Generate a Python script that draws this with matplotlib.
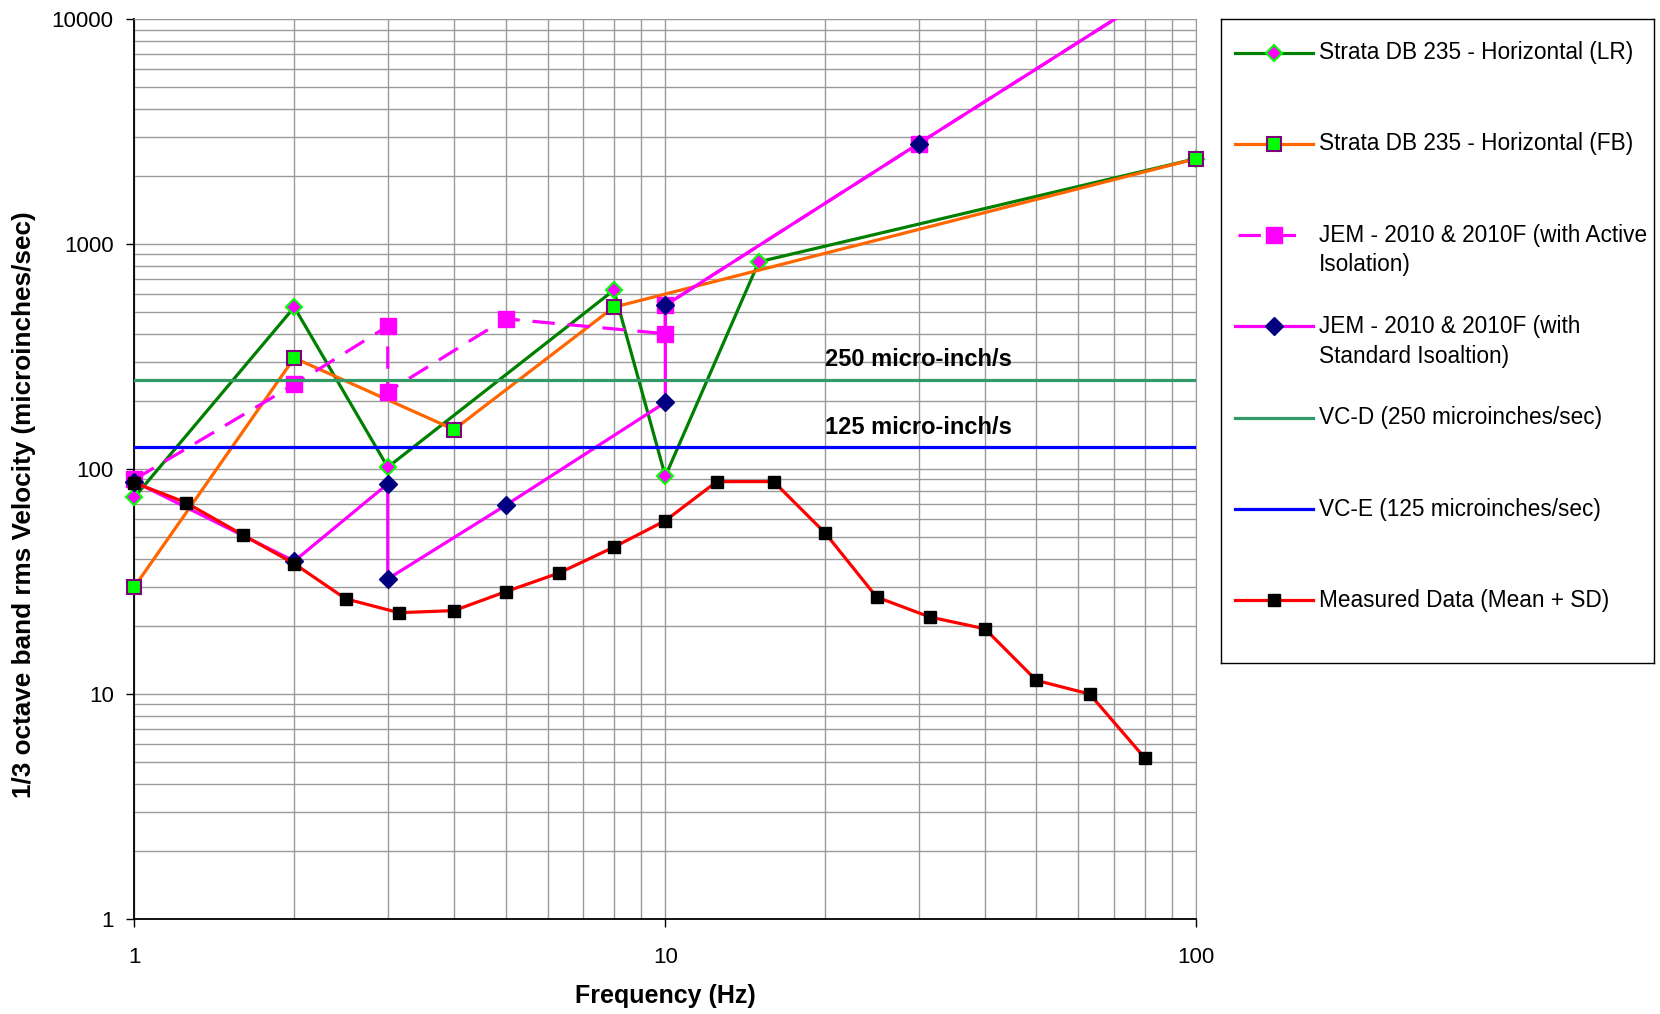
import matplotlib
matplotlib.use("Agg")
import matplotlib.pyplot as plt
from matplotlib.ticker import LogLocator, NullFormatter, FixedLocator

# --- Data ---
lr_freq = [1, 2, 3, 8, 10, 15, 100]
lr_vel = [75, 525, 102, 625, 93, 835, 2400]

fb_freq = [1, 2, 4, 8, 100]
fb_vel = [30, 312, 150, 525, 2400]

act_freq = [1, 2, 3, 3, 5, 10, 10, 30, 100]
act_vel = [90, 238, 432, 221, 466, 400, 535, 2800, 17000]

std_freq = [1, 2, 3, 3, 5, 10, 10, 30, 100]
std_vel = [88, 39, 86, 32.5, 69, 198, 535, 2800, 17000]

meas_freq = [1, 1.25, 1.6, 2, 2.5, 3.15, 4, 5, 6.3, 8, 10, 12.5, 16,
             20, 25, 31.5, 40, 50, 63, 80]
meas_vel = [87, 71, 51, 38, 26.5, 23, 23.5, 28.5, 34.5, 45, 59, 88, 88,
            52, 27, 22, 19.5, 11.5, 10, 5.2]

vc_d = 250
vc_e = 125

labels = ["Strata DB 235 - Horizontal (LR)",
          "Strata DB 235 - Horizontal (FB)",
          "JEM - 2010 & 2010F (with Active\nIsolation)",
          "JEM - 2010 & 2010F (with\nStandard Isoaltion)",
          "VC-D (250 microinches/sec)",
          "VC-E (125 microinches/sec)",
          "Measured Data (Mean + SD)"]

plt.rcParams['font.family'] = ['Liberation Sans', 'DejaVu Sans']

fig = plt.figure(figsize=(16.6, 10.14), dpi=100)
ax = fig.add_axes([0.081, 0.0937, 0.6396, 0.8873])

lw = 2.3
marker_keys = ('marker', 'ms', 'mfc', 'mec', 'mew')
styles = [
    dict(color='#008000', marker='D', ms=8.5, mfc='#FF00FF', mec='#00FF00', mew=1.5, ls='-'),
    dict(color='#FF6600', marker='s', ms=9.5, mfc='#00FF00', mec='#800080', mew=1.5, ls='-'),
    dict(color='#FF00FF', marker='s', ms=11, mfc='#FF00FF', mec='#FF00FF', mew=1, ls=(0, (7, 4))),
    dict(color='#FF00FF', marker='D', ms=9, mfc='#000080', mec='#000080', mew=1, ls='-'),
    dict(color='#339966', ls='-'),
    dict(color='#0000FF', ls='-'),
    dict(color='#FF0000', marker='s', ms=8.5, mfc='black', mec='black', mew=1, ls='-'),
]


def line_only(st):
    return {k: v for k, v in st.items() if k not in marker_keys}


def marks_only(st):
    return {k: v for k, v in st.items() if k in marker_keys}


ax.plot(lr_freq, lr_vel, lw=lw, **styles[0], zorder=3, clip_on=False)
ax.plot(fb_freq, fb_vel, lw=lw, **styles[1], zorder=4, clip_on=False)
# JEM lines run off the top of the chart: clip the line, not the visible markers
ax.plot(act_freq, act_vel, lw=lw, **line_only(styles[2]), zorder=5)
ax.plot(act_freq, act_vel, ls='none', **marks_only(styles[2]), zorder=5,
        markevery=list(range(len(act_freq) - 1)), clip_on=False)
ax.plot(std_freq, std_vel, lw=lw, **line_only(styles[3]), zorder=6)
ax.plot(std_freq, std_vel, ls='none', **marks_only(styles[3]), zorder=6,
        markevery=list(range(len(std_freq) - 1)), clip_on=False)
ax.axhline(vc_d, lw=lw, zorder=7, **styles[4])
ax.axhline(vc_e, lw=lw, zorder=8, **styles[5])
ax.plot(meas_freq, meas_vel, lw=lw, **styles[6], zorder=9, clip_on=False)

ax.text(20, vc_d * 1.15, "250 micro-inch/s", fontsize=17, fontweight='bold', zorder=10)
ax.text(20, vc_e * 1.15, "125 micro-inch/s", fontsize=17, fontweight='bold', zorder=10)

ax.set_xscale('log')
ax.set_yscale('log')
ax.set_xlim(1, 100)
ax.set_ylim(1, 10000)

ax.xaxis.set_major_locator(FixedLocator([1, 10, 100]))
ax.set_xticklabels(["1", "10", "100"])
ax.yaxis.set_major_locator(FixedLocator([1, 10, 100, 1000, 10000]))
ax.set_yticklabels(["1", "10", "100", "1000", "10000"])
ax.xaxis.set_minor_locator(LogLocator(base=10, subs=range(2, 10)))
ax.yaxis.set_minor_locator(LogLocator(base=10, subs=range(2, 10)))
ax.xaxis.set_minor_formatter(NullFormatter())
ax.yaxis.set_minor_formatter(NullFormatter())
ax.tick_params(which='major', direction='out', length=6, width=1, labelsize=16, pad=9)
ax.tick_params(which='minor', length=0)
ax.tick_params(axis='x', pad=14)

ax.grid(True, which='both', color='#9a9a9a', lw=1, zorder=0)
ax.set_axisbelow(True)
for s in ['top', 'right']:
    ax.spines[s].set_color('#9a9a9a')
for s in ['left', 'bottom']:
    ax.spines[s].set_color('black')
    ax.spines[s].set_linewidth(1.3)

ax.set_xlabel("Frequency (Hz)", fontsize=18, fontweight='bold', labelpad=12)
ax.set_ylabel("1/3 octave band rms Velocity (microinches/sec)", fontsize=18.8,
              fontweight='bold')
ax.yaxis.set_label_coords(-0.093, 0.461)

# --- Legend box (drawn by hand so two-line entries keep even spacing) ---
lax = fig.add_axes([0.7355, 0.3462, 0.2608, 0.635])
lax.set_xlim(0, 1)
lax.set_ylim(0, 1)
lax.set_xticks([])
lax.set_yticks([])
for s in lax.spines.values():
    s.set_color('black')
    s.set_linewidth(1)

row_top = 0.052
row_step = 0.1418
for i, (lab, st) in enumerate(zip(labels, styles)):
    y = 1 - (row_top + i * row_step)
    x0, x1 = (0.04, 0.19) if i == 2 else (0.033, 0.212)
    lax.plot([x0, x1], [y, y], lw=lw, **line_only(st))
    if 'marker' in st:
        lax.plot([0.123], [y], ls='none', **marks_only(st))
    first, *rest = lab.split("\n")
    lax.text(0.226, y, first, fontsize=16.3, va='center')
    for j, line in enumerate(rest):
        lax.text(0.226, y - 0.046 * (j + 1), line, fontsize=16.3, va='center')

fig.savefig("out.png", dpi=100)
